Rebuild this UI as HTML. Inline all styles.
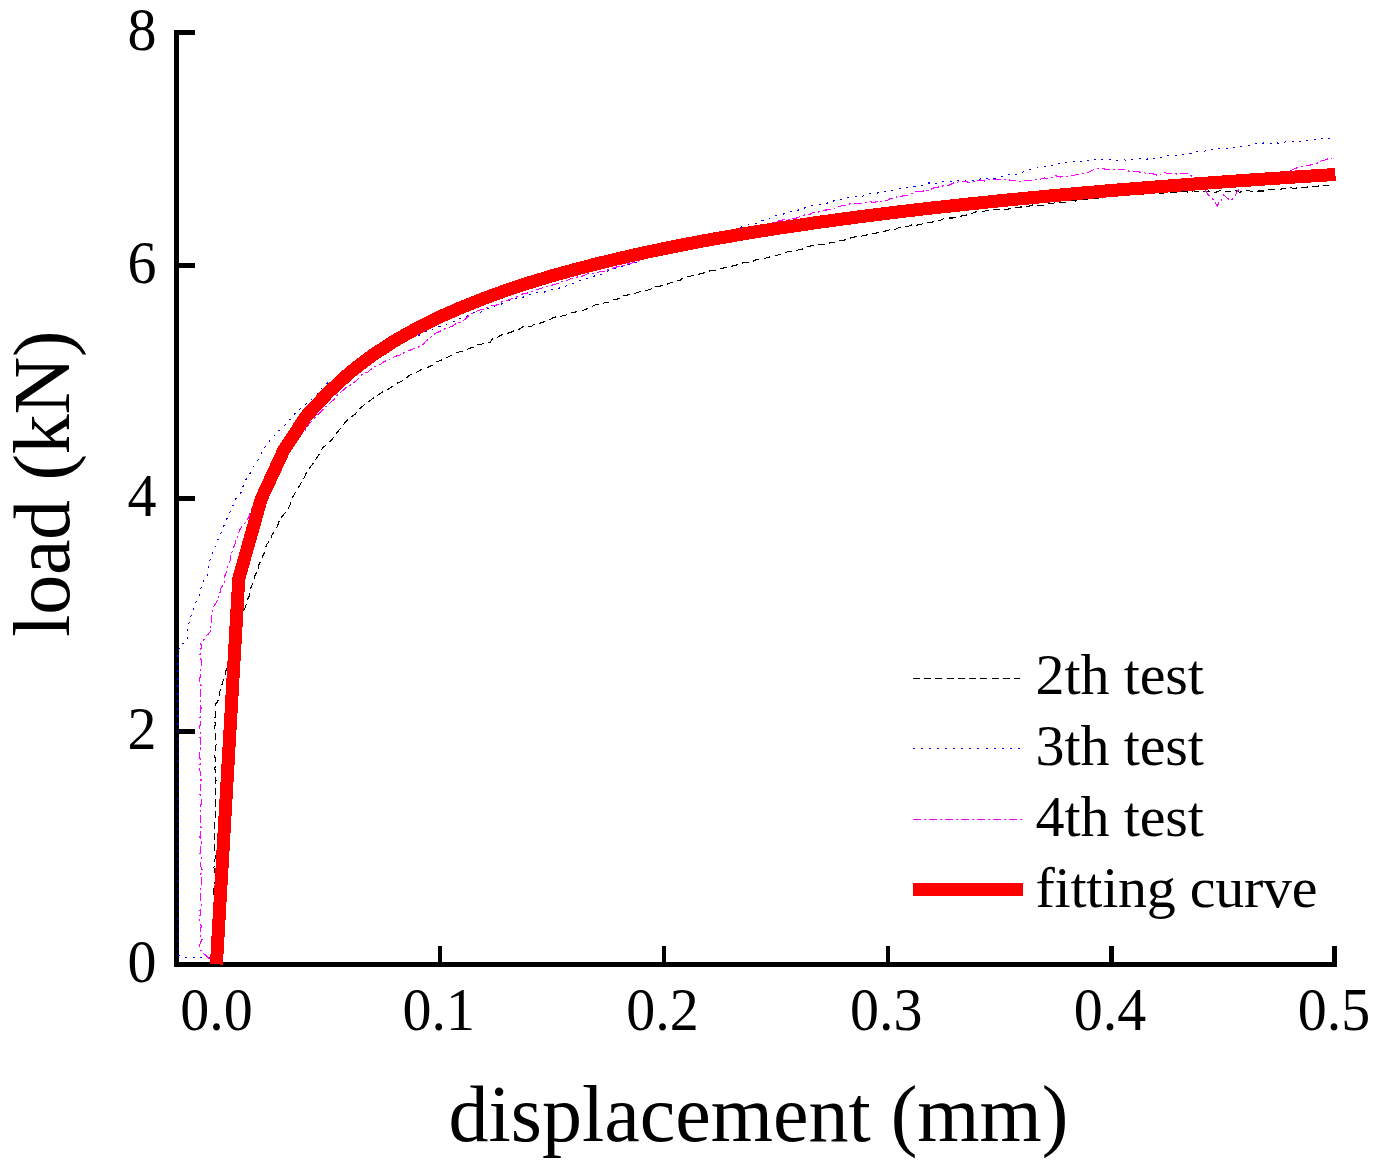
<!DOCTYPE html>
<html lang="en"><head><meta charset="utf-8"><title>load-displacement</title>
<style>html,body{margin:0;padding:0;background:#fff}body{width:1383px;height:1176px;overflow:hidden}</style></head>
<body>
<svg width="1383" height="1176" viewBox="0 0 1383 1176" style="display:block">
<rect width="1383" height="1176" fill="#fff"/>
<g fill="#000" shape-rendering="crispEdges">
<rect x="174.3" y="30" width="4.8" height="936.7"/>
<rect x="174.3" y="961.9" width="1162.7" height="4.8"/>
<rect x="176" y="962.1" width="19" height="4.4"/>
<rect x="176" y="729.1" width="19" height="4.4"/>
<rect x="176" y="496.1" width="19" height="4.4"/>
<rect x="176" y="263.1" width="19" height="4.4"/>
<rect x="176" y="30.1" width="19" height="4.4"/>
<rect x="438.0" y="945.8" width="4.4" height="18"/>
<rect x="661.8" y="945.8" width="4.4" height="18"/>
<rect x="885.6" y="945.8" width="4.4" height="18"/>
<rect x="1109.4" y="945.8" width="4.4" height="18"/>
<rect x="1332.2" y="945.8" width="5.0" height="18"/>
</g>
<g fill="none" stroke-width="1.1" shape-rendering="crispEdges">
<polyline points="214.3,962.0 215.2,957.7 214.3,954.1 213.9,949.8 214.3,944.7 214.9,941.9 214.0,937.4 214.6,933.3 214.2,928.6 214.6,925.4 214.5,920.4 215.2,917.2 214.1,914.2 214.3,909.0 214.1,903.7 215.0,900.6 214.0,897.3 213.6,893.0 213.4,888.2 213.9,885.3 215.6,880.2 215.1,876.2 215.0,871.8 213.8,867.2 215.0,865.3 214.8,860.0 215.9,856.1 214.9,852.1 214.8,847.8 214.1,844.3 214.8,840.7 214.7,835.0 214.9,832.9 214.7,827.5 214.3,823.4 214.8,819.4 215.8,815.8 215.1,812.8 215.9,807.9 215.3,804.4 215.0,799.0 215.5,796.5 215.4,791.5 215.1,787.7 215.0,784.7 216.0,780.4 215.5,776.4 215.2,772.0 214.9,768.0 216.5,764.5 215.3,760.0 214.8,756.2 215.5,751.3 215.6,747.8 216.1,744.3 216.2,740.0 215.1,736.4 215.9,732.6 214.6,728.4 215.3,724.1 214.9,721.4 215.1,716.0 215.7,712.6 215.3,709.0 215.3,704.6 217.5,701.8 218.7,698.6 219.5,694.5 220.3,689.1 222.0,685.9 222.1,682.7 223.9,679.3 225.5,675.6 225.9,670.7 227.7,666.3 228.6,661.5 229.8,657.5 230.7,654.9 232.5,651.6 232.0,647.2 234.6,643.4 234.5,639.1 236.0,635.0 237.5,631.6 238.1,627.3 239.1,622.6 240.4,619.1 242.0,615.5 243.3,611.0 245.5,607.1 246.7,602.5 247.6,599.3 249.1,596.4 250.1,592.3 250.2,589.3 251.7,586.1 252.7,582.1 254.7,578.3 254.4,576.4 256.9,571.9 258.8,568.2 258.8,564.9 261.2,560.5 262.4,556.9 264.2,552.9 265.5,548.4 266.6,544.8 269.2,541.4 270.6,538.2 272.2,534.8 274.4,531.7 276.5,528.0 278.1,524.2 279.3,520.6 281.6,516.9 284.6,513.5 287.6,509.3 289.8,505.4 291.2,501.9 292.7,497.3 294.4,494.1 296.6,489.5 298.6,487.1 301.6,482.2 303.7,478.6 305.9,473.9 308.1,470.5 310.5,466.7 313.5,463.0 316.5,458.2 318.5,455.1 321.1,451.8 322.4,448.0 328.2,443.6 332.3,439.2 335.0,435.5 338.2,431.1 341.9,426.5 345.0,422.6 348.1,419.6 350.5,417.5 355.2,414.2 358.3,409.8 363.3,405.7 367.4,402.2 370.2,400.5 374.8,397.1 380.2,393.4 384.1,390.8 388.8,388.8 392.4,386.5 395.2,384.8 397.9,382.9 402.8,380.6 405.9,378.6 409.2,375.5 413.5,373.4 417.8,371.8 421.0,369.8 426.7,368.1 428.8,366.7 432.9,364.8 435.7,362.1 439.9,360.7 442.7,359.6 447.7,357.2 451.0,355.6 454.6,353.5 459.1,352.0 462.9,351.4 466.5,349.8 471.2,347.7 473.9,346.8 477.0,345.0 481.5,344.3 485.0,342.4 490.4,342.0 492.8,338.1 496.9,337.8 500.0,335.7 504.3,333.9 508.8,333.0 511.9,331.9 515.2,330.1 519.0,329.3 522.7,326.8 527.4,325.9 531.2,326.5 535.2,323.6 538.4,323.7 543.2,322.1 547.8,320.5 551.2,318.8 553.7,317.2 559.4,316.7 563.7,315.5 567.6,314.7 571.0,312.9 574.7,312.3 579.6,310.8 584.5,309.9 587.6,308.5 590.9,307.0 595.8,304.7 599.8,304.3 604.2,302.9 608.3,302.6 611.3,299.8 615.7,299.9 619.6,297.9 624.0,295.5 627.4,295.0 631.9,294.2 635.1,293.2 638.9,292.1 643.3,290.7 647.3,290.2 651.6,288.8 656.0,286.8 660.0,286.3 663.8,284.6 667.4,284.1 672.9,282.0 675.9,281.0 680.1,280.2 684.2,277.2 687.3,277.0 691.6,275.9 695.3,275.5 699.6,273.9 703.4,273.1 707.6,271.8 710.9,270.5 716.1,270.6 719.8,268.6 723.8,267.9 728.0,267.1 731.4,266.2 735.1,265.6 740.5,263.5 744.1,262.6 748.4,262.7 751.7,261.8 755.6,259.9 759.6,259.2 763.7,258.4 767.6,257.7 772.5,256.1 775.2,255.8 780.0,254.4 783.3,253.5 788.8,251.4 792.3,251.2 795.5,250.7 800.0,249.4 804.7,248.6 807.5,246.7 811.3,245.8 816.8,245.8 819.4,244.4 823.4,244.1 827.2,244.3 831.5,242.1 836.1,242.5 840.6,240.6 844.0,240.1 848.2,239.3 851.4,237.6 856.0,236.8 860.6,236.6 863.3,235.5 867.6,234.8 872.3,233.2 874.8,233.3 879.8,232.3 884.0,231.4 888.2,230.2 891.8,229.4 895.1,229.3 900.1,227.1 903.1,227.5 908.3,226.2 911.6,224.9 917.1,225.1 920.2,224.4 924.2,223.6 927.5,222.8 931.7,222.3 935.3,220.5 940.0,220.6 943.8,218.7 947.6,218.0 952.7,218.0 956.3,216.8 959.3,216.5 964.5,215.3 967.6,214.8 971.4,213.8 975.2,212.0 979.6,211.7 984.7,211.1 987.7,210.2 990.6,209.4 995.9,209.2 1000.3,210.2 1003.6,209.9 1007.9,209.1 1011.6,208.6 1015.3,207.9 1019.5,207.1 1024.2,206.8 1027.8,206.6 1032.3,205.0 1036.2,205.7 1039.5,205.1 1043.2,205.2 1047.8,203.9 1052.6,203.4 1056.3,202.5 1060.0,202.6 1063.9,202.7 1068.1,202.1 1071.4,200.7 1075.7,201.0 1080.0,200.2 1084.4,199.6 1088.2,200.0 1092.0,198.9 1097.3,198.4 1100.8,197.5 1105.6,196.1 1108.0,196.3 1113.6,196.6 1116.7,195.2 1121.1,195.5 1125.0,195.0 1128.4,194.9 1133.2,194.7 1136.9,193.4 1141.0,193.7 1145.0,194.3 1148.6,193.3 1153.5,193.8 1156.6,191.8 1161.0,193.6 1165.6,192.7 1168.6,192.6 1173.5,192.0 1176.9,192.0 1181.1,191.4 1185.2,191.8 1188.9,192.2 1193.6,190.8 1197.6,191.8 1201.0,191.3 1205.0,192.0 1208.4,190.9 1213.3,192.6 1216.8,191.9 1220.1,190.7 1224.1,192.3 1227.1,191.2 1230.9,191.6 1236.3,190.9 1239.5,192.3 1243.5,190.9 1246.7,190.5 1251.8,191.3 1255.2,191.7 1258.8,191.0 1263.5,191.0 1267.2,189.6 1271.5,189.7 1273.7,189.4 1279.1,190.5 1282.6,188.2 1287.9,188.7 1290.6,187.6 1294.1,188.6 1298.6,187.4 1302.1,188.0 1305.9,187.2 1310.1,186.7 1313.3,186.7 1318.5,186.0 1320.9,185.0 1325.3,185.3 1329.0,185.2" stroke="#000" stroke-dasharray="7 4.3"/>
<polyline points="210,957.5 181,957 178.5,955 178,700 178.0,655.0 178.4,650.4 180.4,645.0 183.9,643.0 187.2,640.0 188.0,636.1 187.2,631.9 187.8,628.5 188.0,625.5 189.2,622.3 190.6,617.8 191.4,614.0 193.2,610.6 194.0,606.8 195.7,603.1 196.5,600.2 199.0,596.6 199.6,592.5 200.6,589.4 201.6,585.6 202.5,582.0 205.2,578.4 207.7,575.6 208.4,571.8 208.1,567.6 208.5,564.5 209.7,560.6 211.9,557.0 212.3,552.4 213.9,549.5 215.8,545.6 216.9,541.8 218.7,538.2 220.4,534.8 222.4,529.4 224.2,525.0 225.5,521.2 228.2,516.6 229.3,515.0 230.3,510.5 232.3,506.7 234.5,503.0 235.2,499.5 238.1,496.2 241.4,492.3 242.0,488.5 244.2,484.6 245.8,479.7 247.8,476.4 251.3,471.5 253.3,467.2 256.1,463.3 258.0,460.0 260.5,454.8 262.2,451.9 264.6,447.2 268.4,444.1 270.7,438.9 274.8,435.3 278.0,431.5 281.2,428.8 285.0,425.0 289.1,420.6 291.1,418.8 295.0,413.3 298.6,409.8 303.6,406.5 308.0,402.2 312.2,398.7 316.8,395.2 319.6,390.9 323.4,386.3 326.4,383.6 330.9,381.1 334.5,378.6 339.5,375.7 342.6,372.7 346.7,370.3 351.7,367.6 355.9,364.9 360.0,362.0 364.7,360.8 367.0,358.0 370.9,356.8 375.7,355.6 379.3,353.8 383.1,351.9 386.5,349.7 390.0,348.0 395.0,345.9 397.7,344.9 402.0,342.2 406.9,340.9 410.4,338.4 414.3,337.1 418.4,335.7 422.0,333.2 426.5,331.1 430.5,330.7 434.0,328.4 438.3,326.7 442.4,325.9 446.0,324.2 451.2,323.1 455.3,320.7 458.6,318.9 462.9,317.4 467.1,316.6 469.7,314.0 474.1,312.6 479.5,312.7 483.3,310.6 487.6,308.8 491.0,307.2 495.9,305.5 500.1,304.6 503.5,303.0 507.0,301.3 511.5,299.8 514.7,299.0 519.0,297.8 523.3,297.2 528.7,294.8 532.5,294.9 536.0,292.9 541.0,292.3 545.0,291.9 548.8,290.3 553.4,289.5 558.2,288.8 561.5,286.6 566.8,285.9 569.9,283.8 573.8,283.2 577.9,281.1 582.2,280.5 586.0,278.6 591.1,277.0 594.8,275.9 599.8,275.0 603.1,273.8 607.9,271.1 611.2,269.9 615.0,268.5 618.7,267.8 623.2,265.7 626.2,265.5 630.2,264.1 634.8,262.7 638.8,261.3 641.4,260.2 646.4,258.9 649.7,257.6 652.7,255.7 656.8,253.9 660.6,253.0 664.8,252.2 668.9,250.0 672.8,250.0 677.3,248.2 681.0,247.3 685.3,246.3 688.2,243.9 693.1,243.6 697.0,240.1 700.0,240.0 704.5,238.8 708.2,237.4 713.0,236.1 717.0,235.3 720.7,234.0 724.7,231.9 729.1,231.6 732.7,230.4 737.4,228.0 740.9,227.2 745.1,226.2 748.4,224.7 752.8,223.8 756.7,223.6 760.0,221.2 763.4,220.1 768.5,219.2 771.4,217.1 775.5,216.0 780.0,214.3 785.1,213.9 788.9,211.9 792.8,211.4 797.2,210.3 801.1,209.5 806.1,207.3 808.6,206.6 813.0,205.5 817.7,205.6 821.3,204.2 825.6,203.7 829.7,202.3 833.9,200.9 838.3,199.1 841.3,199.2 846.1,198.1 850.8,197.1 853.8,197.0 857.7,196.5 862.8,196.1 864.3,195.6 869.5,193.3 873.7,192.9 877.3,193.0 880.7,192.5 884.4,191.5 888.6,190.6 893.9,190.1 896.1,189.3 900.2,188.7 904.6,188.0 908.4,187.0 912.5,187.2 915.9,185.8 920.1,185.9 924.6,184.1 927.9,183.0 931.8,183.1 936.2,183.3 939.8,181.7 944.2,182.0 948.3,181.8 952.6,181.8 956.7,180.8 960.9,180.5 964.4,181.4 968.7,179.4 973.4,180.3 977.3,179.5 980.9,178.9 984.4,179.6 988.6,178.1 992.7,179.1 997.0,177.7 1000.9,177.1 1005.3,175.0 1009.3,174.9 1012.3,173.9 1017.1,174.2 1020.6,172.6 1024.0,171.7 1028.9,169.7 1032.0,170.0 1035.3,168.5 1040.5,166.9 1043.9,166.9 1048.5,165.3 1052.6,165.3 1056.5,164.8 1059.8,163.3 1062.6,162.1 1066.8,162.2 1071.7,160.9 1075.0,161.4 1078.2,162.0 1083.2,161.8 1087.8,160.2 1090.2,161.6 1095.1,159.6 1099.7,160.1 1103.4,159.8 1107.4,159.8 1111.7,159.5 1115.0,160.0 1119.4,160.2 1123.0,159.5 1126.4,160.3 1130.3,159.5 1134.5,159.5 1139.3,158.4 1142.7,158.3 1146.8,159.2 1150.0,158.2 1155.6,158.8 1159.7,157.0 1163.0,157.7 1166.7,156.1 1170.7,155.0 1175.9,155.4 1179.5,154.8 1183.9,154.7 1187.4,153.1 1190.9,153.3 1195.3,151.3 1199.5,151.6 1204.1,151.5 1207.3,149.9 1211.8,149.8 1215.8,149.6 1219.9,148.0 1223.3,149.1 1227.5,148.4 1232.4,147.3 1235.6,147.2 1239.7,146.5 1244.3,145.7 1248.2,145.5 1251.7,145.1 1256.0,143.7 1260.3,144.1 1264.2,142.7 1269.0,143.7 1272.6,142.9 1275.9,142.6 1280.0,143.5 1284.2,142.3 1287.6,141.0 1292.2,141.7 1296.7,141.1 1299.4,141.3 1303.9,141.2 1309.4,140.5 1312.9,139.0 1317.7,139.5 1320.8,138.6 1324.2,138.1 1328.1,138.4 1332.2,138.1" stroke="#00f" stroke-dasharray="2 5.5"/>
<polyline points="209.5,958.8 206.5,956.0 203.0,953.0 200.5,950.0 199.4,945.5 200.7,941.9 202.2,939.4 199.7,933.4 200.5,931.0 201.2,926.2 199.8,921.5 199.1,917.2 200.8,914.4 199.9,910.1 201.5,906.1 200.5,902.3 200.9,898.0 200.4,893.8 200.7,889.7 201.4,886.5 201.3,883.1 201.6,878.8 200.9,873.9 202.0,869.6 200.4,865.5 200.9,862.2 201.3,857.9 199.8,854.2 200.8,850.0 200.7,846.2 201.5,841.8 199.9,837.4 200.6,832.6 201.1,829.1 200.9,825.6 200.4,822.3 200.3,816.9 200.7,813.6 200.5,808.6 200.9,805.3 201.6,800.8 200.6,796.5 199.6,792.8 200.9,788.1 200.0,783.9 201.1,780.1 200.6,775.9 200.3,771.9 199.0,768.2 200.5,762.9 200.2,760.0 199.6,755.8 199.2,752.1 200.9,747.2 200.2,744.7 200.4,739.6 199.8,736.0 200.3,732.2 199.5,728.4 200.2,724.1 200.0,719.0 200.1,715.2 200.2,712.1 201.1,707.8 200.2,703.4 200.8,700.3 200.4,695.5 200.1,691.7 201.1,686.0 200.7,683.2 199.3,679.7 200.6,675.7 199.9,672.6 200.7,667.3 201.5,663.8 201.2,660.0 199.6,656.3 200.6,651.5 201.3,646.9 200.8,643.3 203.4,640.8 205.1,636.7 208.5,634.0 211.4,629.9 210.1,625.4 211.6,621.6 211.2,617.5 212.7,612.7 213.1,607.6 216.0,603.2 217.4,600.1 218.7,595.7 220.2,591.9 221.1,587.6 224.3,584.2 224.0,579.5 224.8,575.8 226.3,572.4 227.2,566.8 228.7,564.7 230.2,560.5 230.7,556.7 231.8,553.0 232.9,548.4 234.7,545.7 235.4,542.1 236.6,538.2 238.4,534.4 239.6,530.1 242.5,525.4 245.6,522.5 248.5,517.8 250.0,513.6 251.0,511.0 252.6,506.4 255.4,503.1 257.7,499.4 260.6,494.1 262.4,490.5 264.1,485.1 267.1,482.5 270.0,478.0 272.4,473.1 274.8,469.5 278.0,466.7 280.0,463.2 282.7,459.4 285.2,455.2 286.8,451.9 290.0,448.0 293.1,444.4 296.2,440.4 299.3,436.3 303.9,432.7 306.8,427.9 308.8,424.4 312.7,420.4 315.6,416.6 320.0,412.6 324.0,408.5 329.3,403.8 332.0,401.2 335.3,398.2 337.2,395.1 341.2,391.9 345.7,388.0 350.2,385.1 354.4,382.3 358.7,378.3 362.1,374.6 368.0,372.0 371.0,369.3 374.9,366.7 379.8,364.7 383.9,361.9 388.0,359.9 392.2,358.1 395.4,356.3 400.9,354.8 405.0,352.2 409.2,350.5 413.1,348.9 418.1,347.1 422.0,345.4 425.2,342.0 428.8,338.6 432.9,335.4 435.5,333.3 439.0,331.8 443.5,329.4 447.4,328.0 452.7,325.9 456.1,323.6 459.4,322.7 462.9,320.8 466.3,318.4 469.4,315.4 473.1,313.1 477.5,310.8 481.2,309.7 484.8,308.5 490.1,306.3 493.6,305.4 497.7,304.8 502.0,301.6 505.7,301.2 509.8,299.3 514.5,297.9 519.0,296.1 523.1,293.7 527.5,293.0 532.5,291.2 536.1,289.9 541.0,288.3 545.6,287.1 549.7,285.6 554.2,284.7 559.4,282.9 562.3,281.5 566.7,280.7 571.1,278.6 575.9,277.1 580.3,276.9 584.2,275.3 587.8,273.5 593.3,273.2 597.3,272.6 600.0,271.6 604.1,271.4 608.5,269.5 612.1,268.5 616.0,267.1 620.2,266.7 623.6,265.6 628.0,263.9 633.6,262.7 635.4,262.4 640.3,260.2 642.8,258.6 647.1,257.7 651.6,257.4 656.3,255.3 660.1,254.9 664.5,253.1 667.4,252.3 672.6,250.4 676.9,250.4 679.7,247.3 683.6,246.7 688.2,244.8 693.3,245.7 695.5,242.2 700.0,242.0 704.7,241.3 707.9,238.7 712.2,239.2 715.8,237.8 720.1,236.4 723.3,235.7 727.2,235.2 731.5,233.6 735.6,232.4 739.8,231.5 743.5,229.2 747.8,228.8 751.1,227.5 755.0,226.9 759.8,225.8 765.4,224.8 768.2,223.9 771.9,222.2 776.4,222.0 780.0,220.4 784.0,219.7 788.5,219.7 793.0,218.3 796.4,218.0 800.3,216.4 804.2,215.0 809.3,214.8 812.3,212.7 818.4,212.0 820.6,211.6 824.8,210.1 829.8,209.8 833.2,208.9 837.4,207.0 841.5,205.9 845.9,205.2 849.2,204.1 853.8,203.0 857.7,203.3 862.0,203.2 866.7,202.3 869.5,201.7 874.1,202.4 878.8,201.0 882.0,201.5 887.3,200.5 889.9,198.6 893.4,197.8 897.3,196.8 901.0,196.2 906.0,195.7 909.7,194.8 914.3,192.4 917.6,191.5 921.1,191.2 925.6,190.9 930.8,189.3 933.5,188.0 937.6,187.3 941.1,186.3 945.4,185.5 950.2,184.9 953.5,182.9 956.5,182.4 960.6,181.3 965.1,181.3 969.7,182.6 973.1,181.4 976.3,181.0 980.8,179.9 984.1,181.1 988.2,179.2 993.0,179.7 997.0,179.2 1000.8,180.0 1005.7,179.2 1010.8,180.2 1014.8,180.1 1018.6,181.3 1022.3,181.4 1026.0,180.5 1030.4,180.3 1035.3,179.3 1040.5,179.1 1044.0,178.0 1047.5,178.3 1051.8,177.7 1055.4,175.7 1060.0,177.0 1063.8,176.8 1069.2,176.0 1072.5,175.4 1076.4,174.8 1080.0,173.8 1084.4,173.6 1088.9,172.2 1092.0,170.3 1096.9,168.9 1100.2,168.0 1103.8,169.0 1110.2,169.5 1112.3,169.7 1116.8,169.8 1120.7,169.1 1125.0,170.0 1129.2,171.2 1132.5,171.7 1137.2,171.8 1141.9,172.2 1145.4,173.1 1149.6,173.8 1153.3,173.9 1156.9,175.2 1161.0,174.0 1164.5,172.5 1168.3,173.7 1172.9,173.6 1176.9,174.1 1180.9,173.5 1184.2,173.3 1188.0,173.3 1190.6,175.4 1194.5,177.6 1198.5,181.8 1201.8,186.1 1205.3,190.6 1208.4,195.0 1211.6,197.3 1214.9,202.5 1217.3,205.8 1219.1,202.5 1221.5,200.2 1223.8,195.0 1227.4,198.5 1231.4,200.4 1235.1,196.3 1236.9,192.2 1240.0,187.4 1244.7,185.6 1248.6,184.3 1253.0,182.8 1255.6,181.5 1260.6,180.1 1265.0,178.0 1268.7,175.7 1272.6,176.0 1276.4,174.3 1281.3,173.4 1285.0,172.4 1287.5,170.6 1292.1,170.0 1295.7,168.1 1299.6,167.4 1303.7,166.3 1309.2,165.6 1311.7,164.3 1317.0,163.5 1320.1,161.2 1323.3,160.6 1328.2,158.8 1332.2,158.5" stroke="#f0f" stroke-dasharray="8 3 2 3"/>
</g>
<polyline points="216.4,964.3 238.8,578.7 261.2,499.0 283.6,450.6 305.9,416.4 328.3,392.4 350.7,371.8 373.1,354.8 395.4,340.4 417.8,327.8 440.2,316.7 462.6,306.9 485.0,298.0 507.3,289.9 529.7,282.6 552.1,275.8 574.5,269.6 596.9,263.8 619.2,258.4 641.6,253.3 664.0,248.6 686.4,244.1 708.8,239.9 731.1,236.0 753.5,232.2 775.9,228.6 798.3,225.3 820.7,222.0 843.0,219.0 865.4,216.0 887.8,213.2 910.2,210.5 932.6,207.9 954.9,205.5 977.3,203.1 999.7,200.8 1022.1,198.6 1044.5,196.5 1066.8,194.4 1089.2,192.4 1111.6,190.5 1134.0,188.7 1156.4,186.9 1178.7,185.2 1201.1,183.5 1223.5,181.9 1245.9,180.3 1268.3,178.8 1290.6,177.3 1313.0,175.9 1335.4,174.5" fill="none" stroke="#f00" stroke-width="13" stroke-linejoin="round" stroke-linecap="butt" shape-rendering="crispEdges"/>
<g fill="none" shape-rendering="crispEdges">
<line x1="912.6" y1="678.2" x2="1020" y2="678.2" stroke="#000" stroke-width="1.1" stroke-dasharray="7 4.3"/>
<line x1="912.6" y1="748.5" x2="1020" y2="748.5" stroke="#00f" stroke-width="1" stroke-dasharray="2 6.1"/>
<line x1="912.6" y1="819.6" x2="1022" y2="819.6" stroke="#f0f" stroke-width="1.1" stroke-dasharray="8 3 2 3"/>
<line x1="912.6" y1="889.8" x2="1023" y2="889.8" stroke="#f00" stroke-width="12.7"/>
</g>
<g font-family="'Liberation Serif', 'Times New Roman', serif" fill="#000">
<g font-size="58">
<text x="1035.5" y="693.8" letter-spacing="-0.1">2th test</text>
<text x="1035.5" y="765.1" letter-spacing="-0.1">3th test</text>
<text x="1035.5" y="835.5" letter-spacing="-0.1">4th test</text>
<text x="1035.5" y="906.8" letter-spacing="-0.25">fitting curve</text>
<text transform="translate(156.5,981.8) scale(1,1.04)" text-anchor="end">0</text>
<text transform="translate(156.5,748.8) scale(1,1.04)" text-anchor="end">2</text>
<text transform="translate(156.5,515.8) scale(1,1.04)" text-anchor="end">4</text>
<text transform="translate(156.5,282.8) scale(1,1.04)" text-anchor="end">6</text>
<text transform="translate(156.5,49.8) scale(1,1.04)" text-anchor="end">8</text>
<text transform="translate(216.4,1029.5) scale(1,1.04)" text-anchor="middle">0.0</text>
<text transform="translate(438.7,1029.5) scale(1,1.04)" text-anchor="middle">0.1</text>
<text transform="translate(662.5,1029.5) scale(1,1.04)" text-anchor="middle">0.2</text>
<text transform="translate(886.3,1029.5) scale(1,1.04)" text-anchor="middle">0.3</text>
<text transform="translate(1110.1,1029.5) scale(1,1.04)" text-anchor="middle">0.4</text>
<text transform="translate(1333.9,1029.5) scale(1,1.04)" text-anchor="middle">0.5</text>
</g>
<text font-size="80" x="758.5" y="1141" text-anchor="middle">displacement (mm)</text>
<text font-size="80" transform="translate(68.5,483.7) rotate(-90)" text-anchor="middle" letter-spacing="-0.3">load (kN)</text>
</g>
</svg>
</body></html>
